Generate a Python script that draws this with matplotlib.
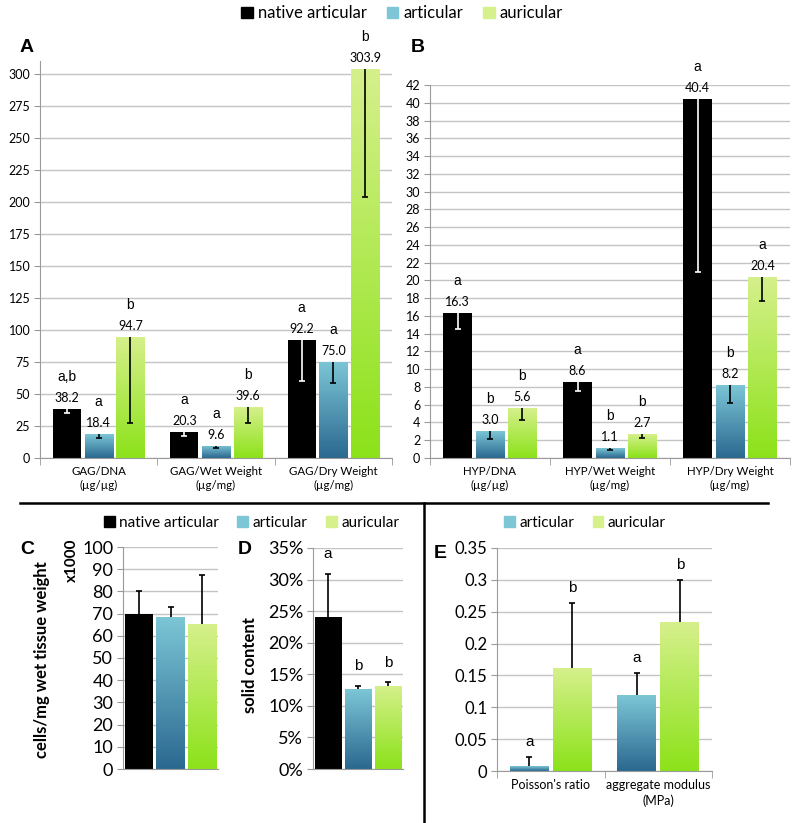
import numpy as np
import matplotlib
matplotlib.use('Agg')
import matplotlib.pyplot as plt
from matplotlib.colors import LinearSegmentedColormap
from matplotlib.patches import Patch
from matplotlib.lines import Line2D
from matplotlib.ticker import PercentFormatter, FuncFormatter

plt.rcParams['font.family'] = ['Lato', 'DejaVu Sans']

# ---- data ----
series = ['native articular', 'articular', 'auricular']

gag_cats = ['GAG/DNA\n(µg/µg)', 'GAG/Wet Weight\n(µg/mg)', 'GAG/Dry Weight\n(µg/mg)']
gag_native = [38.2, 20.3, 92.2]
gag_artic = [18.4, 9.6, 75.0]
gag_auric = [94.7, 39.6, 303.9]
gag_native_err = [3.2, 3.1, 32.0]
gag_artic_err = [2.6, 1.7, 16.6]
gag_auric_err = [67.2, 12.1, 100.0]
gag_letters = [['a,b', 'a', 'a'], ['a', 'a', 'a'], ['b', 'b', 'b']]

hyp_cats = ['HYP/DNA\n(µg/µg)', 'HYP/Wet Weight\n(µg/mg)', 'HYP/Dry Weight\n(µg/mg)']
hyp_native = [16.3, 8.6, 40.4]
hyp_artic = [3.0, 1.1, 8.2]
hyp_auric = [5.6, 2.7, 20.4]
hyp_native_err = [1.8, 1.1, 19.5]
hyp_artic_err = [0.9, 0.2, 2.0]
hyp_auric_err = [1.35, 0.4, 2.7]
hyp_letters = [['a', 'a', 'a'], ['b', 'b', 'b'], ['b', 'b', 'a']]

cells = [69.6, 68.4, 65.3]
cells_err = [10.6, 4.4, 22.3]

solid = [0.241, 0.126, 0.132]
solid_err = [0.068, 0.006, 0.005]
solid_letters = ['a', 'b', 'b']

mech_cats = ["Poisson's ratio", 'aggregate modulus\n(MPa)']
mech_artic = [0.0073, 0.119]
mech_auric = [0.161, 0.2335]
mech_artic_err = [0.0147, 0.035]
mech_auric_err = [0.103, 0.0665]
mech_letters = [['a', 'a'], ['b', 'b']]

# ---- styles ----
BLACK = '#000000'
ART = ('#2b6890', '#7cc6d6')     # bottom, top
AUR = ('#8ce21a', '#d6f08c')
GRID = '#c4c4c4'
SPINE = '#9a9a9a'
ARIAL = ['Liberation Sans', 'DejaVu Sans']

W, H = 796, 823
fig = plt.figure(figsize=(W / 100, H / 100), dpi=100)


def box(l, r, b, t):
    return fig.add_axes([l / W, 1 - b / H, (r - l) / W, (b - t) / H])


def grad_fill(ax, bars, cols):
    cmap = LinearSegmentedColormap.from_list('g', list(cols))
    g = np.linspace(0, 1, 256).reshape(-1, 1)
    for b in bars:
        x0, y0, w, h = b.get_x(), b.get_y(), b.get_width(), b.get_height()
        im = ax.imshow(g, cmap=cmap, origin='lower', aspect='auto',
                       extent=(x0, x0 + w, y0, y0 + h), zorder=2.1)
        im.set_clip_path(b)


def style(ax, ylim, step, fs):
    ax.set_ylim(*ylim)
    ax.set_yticks(np.arange(0, ylim[1] + 1e-9, step))
    ax.yaxis.grid(True, color=GRID, lw=1)
    ax.set_axisbelow(True)
    for s in ['top', 'right']:
        ax.spines[s].set_visible(False)
    for s in ['left', 'bottom']:
        ax.spines[s].set_color(SPINE)
    ax.tick_params(axis='y', length=4, color=SPINE, labelsize=fs, pad=3)


def draw_bar(ax, x, vals, width, kind):
    if kind == 'native':
        bars = ax.bar(x, vals, width, color=BLACK, zorder=2)
    else:
        bars = ax.bar(x, vals, width, color=(ART if kind == 'art' else AUR)[0], zorder=2)
        grad_fill(ax, bars, ART if kind == 'art' else AUR)
    return bars


def big_panel(ax, cats, vals, errs, letters, ylim, step):
    x = np.arange(len(cats))
    off = 0.27
    w = 0.24
    kinds = ['native', 'art', 'aur']
    for i, (v, e, k, lt) in enumerate(zip(vals, errs, kinds, letters)):
        xi = x + (i - 1) * off
        draw_bar(ax, xi, v, w, k)
        ec = 'white' if k == 'native' else 'black'
        eb = ax.errorbar(xi, v, yerr=[e, np.zeros(len(e))], fmt='none', ecolor=ec,
                         elinewidth=1.2, capsize=2, capthick=1.2, zorder=3)
        eb[1][1].set_visible(False)   # no cap at the bar top
        for xx, vv, ll in zip(xi, v, lt):
            ax.annotate(f'{vv:.1f}', (xx, vv), xytext=(0, 8), textcoords='offset points',
                        ha='center', va='center', fontsize=9)
            ax.annotate(ll, (xx, vv), xytext=(0, 23), textcoords='offset points',
                        ha='center', va='center', fontsize=10, family=ARIAL)
    ax.set_xlim(-0.5, len(cats) - 0.5)
    style(ax, ylim, step, 9)
    ax.set_xticks(x)
    ax.set_xticklabels(cats, fontsize=8.3, linespacing=1.3)
    ax.tick_params(axis='x', which='major', length=0, pad=6)
    ax.set_xticks(np.arange(-0.5, len(cats)), minor=True)
    ax.tick_params(axis='x', which='minor', length=5, color=SPINE)


# ---- panel A ----
axA = box(40, 392, 458, 61)
big_panel(axA, gag_cats, [gag_native, gag_artic, gag_auric],
          [gag_native_err, gag_artic_err, gag_auric_err], gag_letters, (0, 310), 25)

# ---- panel B ----
axB = box(430, 790, 458, 85)
big_panel(axB, hyp_cats, [hyp_native, hyp_artic, hyp_auric],
          [hyp_native_err, hyp_artic_err, hyp_auric_err], hyp_letters, (0, 42), 2)

# ---- panel C ----
axC = box(123, 218, 769, 547)
xc = np.arange(3)
for xi, v, k in zip(xc, cells, ['native', 'art', 'aur']):
    draw_bar(axC, [xi], [v], 0.9, k)
axC.errorbar(xc, cells, yerr=cells_err, fmt='none', ecolor='black',
             elinewidth=1.2, capsize=2.5, capthick=1.2, zorder=1.5)
axC.set_xlim(-0.5, 2.5)
style(axC, (0, 100), 10, 13)
axC.set_xticks([])

# ---- panel D ----
axD = box(313, 403, 769, 548)
for xi, v, k in zip(xc, solid, ['native', 'art', 'aur']):
    draw_bar(axD, [xi], [v], 0.9, k)
axD.errorbar(xc, solid, yerr=solid_err, fmt='none', ecolor='black',
             elinewidth=1.2, capsize=2.5, capthick=1.2, zorder=1.5)
for xi, v, e, ll in zip(xc, solid, solid_err, solid_letters):
    axD.annotate(ll, (xi, v + e), xytext=(0, 14), textcoords='offset points',
                 ha='center', va='center', fontsize=11, family=ARIAL)
axD.set_xlim(-0.5, 2.5)
style(axD, (0, 0.35), 0.05, 13)
axD.yaxis.set_major_formatter(PercentFormatter(1, decimals=0))
axD.set_xticks([])

# ---- panel E ----
axE = box(497, 712, 771, 548)
xe = np.arange(2)
for i, (v, e, k, lt) in enumerate(zip([mech_artic, mech_auric], [mech_artic_err, mech_auric_err],
                                      ['art', 'aur'], mech_letters)):
    xi = xe + (i - 0.5) * 0.4
    draw_bar(axE, xi, v, 0.36, k)
    axE.errorbar(xi, v, yerr=e, fmt='none', ecolor='black',
                 elinewidth=1.2, capsize=2.5, capthick=1.2, zorder=1.5)
    for xx, vv, ee, ll in zip(xi, v, e, lt):
        axE.annotate(ll, (xx, vv + ee), xytext=(0, 11), textcoords='offset points',
                     ha='center', va='center', fontsize=11, family=ARIAL)
axE.set_xlim(-0.5, 1.5)
style(axE, (0, 0.35), 0.05, 12)
axE.yaxis.set_major_formatter(FuncFormatter(lambda v, p: f'{v:g}'))
axE.set_xticks(xe)
axE.set_xticklabels(mech_cats, fontsize=9, linespacing=1.3)
axE.tick_params(axis='x', which='major', length=0, pad=6)
axE.set_xticks([-0.5, 0.5, 1.5], minor=True)
axE.tick_params(axis='x', which='minor', length=5, color=SPINE)

# ---- legends ----
handles = [Patch(color=BLACK), Patch(color=ART[1]), Patch(color=AUR[1])]
kw = dict(frameon=False, ncol=3, handlelength=0.7, handleheight=0.7,
          handletextpad=0.3, columnspacing=1.2, borderaxespad=0)
fig.legend(handles, series, loc='center', bbox_to_anchor=(0.505, 0.984), fontsize=12, **kw)
fig.legend(handles, series, loc='center', bbox_to_anchor=(0.316, 0.3645), fontsize=11, **kw)
kw['ncol'] = 2
fig.legend(handles[1:], series[1:], loc='center', bbox_to_anchor=(0.735, 0.3645), fontsize=11, **kw)

# ---- panel letters and axis titles ----
for lab, (px, py) in zip('ABCDE', [(27, 48), (418, 47), (27, 550), (245, 550), (440, 553)]):
    fig.text(px / W, 1 - py / H, lab, fontsize=14, fontweight='bold', family=ARIAL,
             ha='center', va='center')
fig.text(42 / W, 1 - 660 / H, 'cells/mg wet tissue weight', rotation=90, fontsize=12,
         fontweight='bold', ha='center', va='center')
fig.text(72 / W, 1 - 560 / H, 'x1000', rotation=90, fontsize=11,
         fontweight='bold', ha='center', va='center')
fig.text(250 / W, 1 - 665 / H, 'solid content', rotation=90, fontsize=12,
         fontweight='bold', ha='center', va='center')

# ---- divider lines ----
fig.add_artist(Line2D([20 / W, 768 / W], [1 - 503 / H] * 2, color='black', lw=1.8))
fig.add_artist(Line2D([424 / W] * 2, [1 - 503 / H, 0], color='black', lw=1.8))

fig.savefig('out.png', dpi=100)
